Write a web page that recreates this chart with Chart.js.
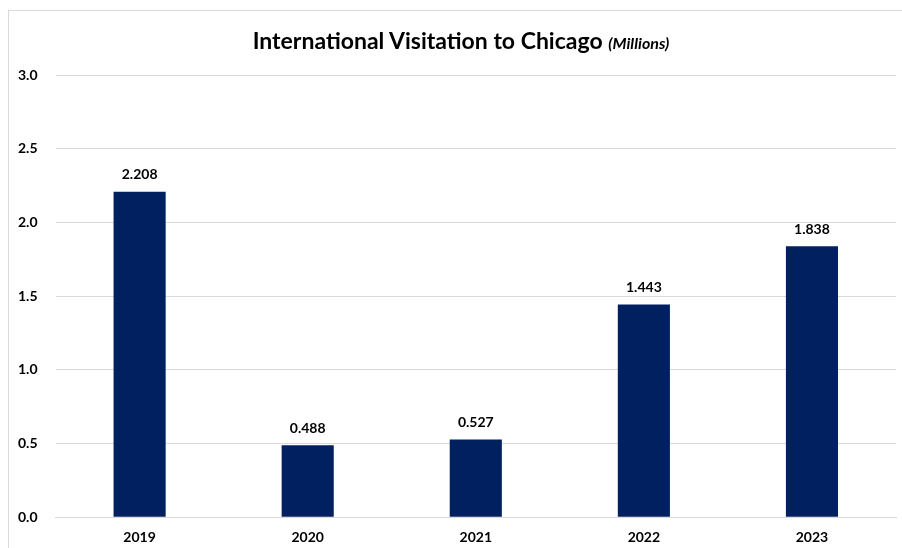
<!DOCTYPE html>
<html>
<head>
<meta charset="utf-8">
<script src="https://cdn.jsdelivr.net/npm/chart.js@4.4.1/dist/chart.umd.min.js"></script>
<style>
  html, body { margin: 0; padding: 0; background: #fff; }
  #wrap { position: relative; width: 902px; height: 548px; overflow: hidden; }
  #frame { position: absolute; left: 8px; top: 10px; width: 1000px; height: 1000px; border: 1px solid #d9d9d9; }
  #title { position: absolute; left: 0; width: 922px; top: 26px; text-align: center;
           font-family: Lato, "Open Sans", sans-serif; font-weight: bold; font-size: 23px; color: #000; }
  #title span { font-style: italic; font-size: 16px; }
  canvas { position: absolute; left: 0; top: 0; }
</style>
</head>
<body>
<div id="wrap">
  <div id="frame"></div>
  <canvas id="chart" width="902" height="548"></canvas>
  <div id="title">International Visitation to Chicago <span>(Millions)</span></div>
</div>
<script>
// Values (millions of visitors)
var years = ['2019', '2020', '2021', '2022', '2023'];
var visitors = [2.208, 0.488, 0.527, 1.443, 1.838];
var yTicks = [0, 0.5, 1.0, 1.5, 2.0, 2.5, 3.0];

var FONT = 'Lato, "Open Sans", sans-serif';

// Simple value labels above each bar, placed from the bar elements
var barLabels = {
    id: 'barLabels',
    afterDatasetsDraw: function (chart) {
        var ctx = chart.ctx;
        var meta = chart.getDatasetMeta(0);
        ctx.save();
        ctx.font = 'bold 14px ' + FONT;
        ctx.fillStyle = '#000';
        ctx.textAlign = 'center';
        ctx.textBaseline = 'bottom';
        meta.data.forEach(function (bar, i) {
            ctx.fillText(visitors[i].toFixed(3), bar.x, bar.y - 10);
        });
        ctx.restore();
    }
};

new Chart(document.getElementById('chart'), {
    type: 'bar',
    data: {
        labels: years,
        datasets: [{
            data: visitors,
            backgroundColor: '#002060',
            categoryPercentage: 1,
            barPercentage: 0.31,
        }],
    },
    options: {
        responsive: false,
        animation: false,
        layout: { padding: { left: 0, right: 6, top: 75, bottom: -10 } },
        plugins: {
            legend: { display: false },
            tooltip: { enabled: false },
        },
        scales: {
            y: {
                min: 0,
                max: 3,
                afterBuildTicks: function (axis) {
                    axis.ticks = yTicks.map(function (v) { return { value: v }; });
                },
                ticks: {
                    padding: 18,
                    color: '#000',
                    font: { family: FONT, size: 14, weight: 'bold' },
                    callback: function (v) { return Number(v).toFixed(1); },
                },
                grid: { color: '#d9d9d9', drawTicks: false },
                border: { display: false },
            },
            x: {
                ticks: {
                    padding: 12,
                    color: '#000',
                    font: { family: FONT, size: 14, weight: 'bold' },
                },
                grid: { display: false, drawTicks: false },
                border: { color: '#d9d9d9' },
            },
        },
    },
    plugins: [barLabels],
});
</script>
</body>
</html>
